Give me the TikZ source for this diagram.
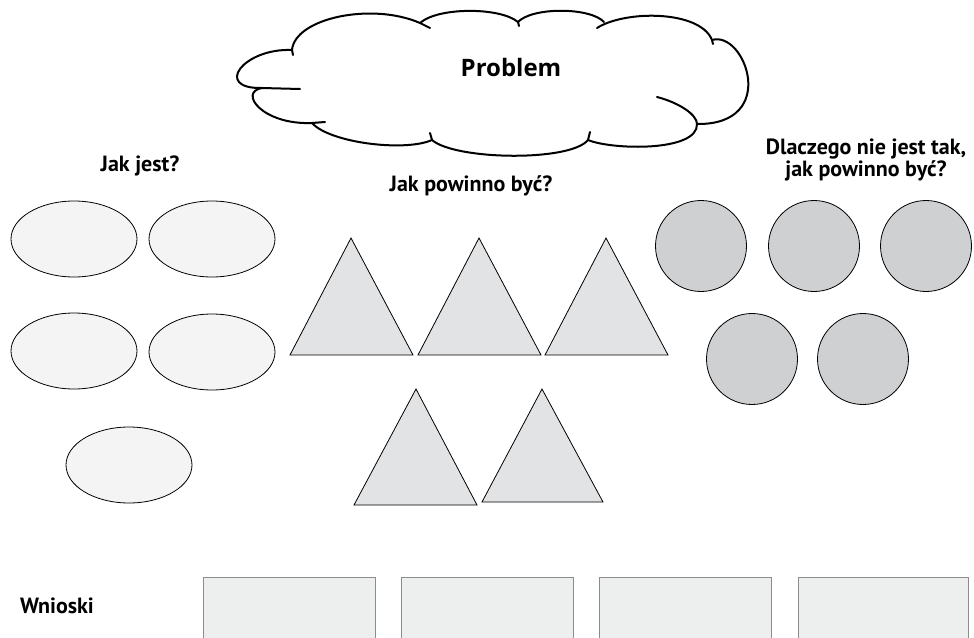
\documentclass[tikz,border=0pt]{standalone}
\usepackage{fontspec}
\setmainfont{PT Sans}
\newfontfamily\cloudfont{Open Sans}
\usetikzlibrary{shapes.geometric}
\definecolor{ovalfill}{HTML}{F4F4F4}
\definecolor{trifill}{HTML}{E2E3E4}
\definecolor{discfill}{HTML}{CFD0D2}
\definecolor{boxfill}{HTML}{EDEEEE}
\definecolor{boxline}{HTML}{8C8C8C}
\begin{document}
\begin{tikzpicture}[x=1pt,y=-1pt,
	oval/.style={ellipse,draw,fill=ovalfill,line width=0.8pt,minimum width=126pt,minimum height=76pt,inner sep=0pt},
	disc/.style={circle,draw,fill=discfill,line width=0.8pt,minimum size=91pt,inner sep=0pt},
	tri/.style={draw,fill=trifill,line width=0.8pt},
	box/.style={draw=boxline,fill=boxfill,line width=0.8pt},
	lbl/.style={font=\bfseries\fontsize{22}{22}\selectfont,align=center},
	puff/.style={line width=2pt,line cap=round}]
	\useasboundingbox (0,0) rectangle (974,637);
	\clip (0,0) rectangle (974,637);
	% cloud
	\draw[puff] (262,88) .. controls (213,89) and (243,48) .. (292,50)
		.. controls (295,18) and (372,2) .. (420,23)
		.. controls (438,7) and (500,7) .. (518,22)
		.. controls (532,7) and (590,7) .. (604,22);
	\draw[puff] (597,28) .. controls (625,10) and (700,10) .. (712,40)
		.. controls (745,30) and (780,125) .. (697,124)
		.. controls (698,152) and (612,150) .. (588,140)
		.. controls (570,162) and (455,160) .. (432,140)
		.. controls (405,152) and (330,143) .. (312,123)
		.. controls (262,125) and (238,92) .. (262,88);
	\draw[puff] (262,88) -- (300,89);
	\draw[puff] (292,50) -- (293,55);
	\draw[puff] (420,23) -- (430,28);
	\draw[puff] (518,22) -- (519,26);
	\draw[puff] (712,40) -- (713,44);
	\draw[puff] (657,97) .. controls (680,103) and (697,115) .. (697,124);
	\draw[puff] (588,140) -- (590,132);
	\draw[puff] (432,140) -- (430,133);
	\draw[puff] (312,123) -- (325,122);
	\node[font=\cloudfont\bfseries\fontsize{24}{28}\selectfont] (problem) at (511,67) {Problem};
	% labels
	\node[lbl] (isnow) at (140,166) {Jak jest?};
	\node[lbl] (should) at (471,186) {Jak powinno być?};
	\node[lbl] (why) at (866,160) {Dlaczego nie jest tak,\\jak powinno być?};
	\node[lbl] (concl) at (57,606) {Wnioski};
	% ovals
	\node[oval] (o1) at (74,239) {};
	\node[oval] (o2) at (212,239) {};
	\node[oval] (o3) at (74,351) {};
	\node[oval] (o4) at (212,352) {};
	\node[oval] (o5) at (129,465) {};
	% triangles
	\draw[tri] (290,355) -- (351,238) -- (413,355) -- cycle;
	\draw[tri] (418,355) -- (479,238) -- (541,355) -- cycle;
	\draw[tri] (545,355) -- (606,238) -- (668,355) -- cycle;
	\draw[tri] (354,505) -- (416,389) -- (477,505) -- cycle;
	\draw[tri] (482,502) -- (542,389) -- (603,502) -- cycle;
	% discs
	\node[disc] (d1) at (701,246) {};
	\node[disc] (d2) at (814,246) {};
	\node[disc] (d3) at (926,246) {};
	\node[disc] (d4) at (752,359) {};
	\node[disc] (d5) at (863,359) {};
	% boxes
	\draw[box] (203,577) rectangle (375,660);
	\draw[box] (401,577) rectangle (573,660);
	\draw[box] (599,577) rectangle (771,660);
	\draw[box] (798,577) rectangle (968,660);
\end{tikzpicture}
\end{document}
